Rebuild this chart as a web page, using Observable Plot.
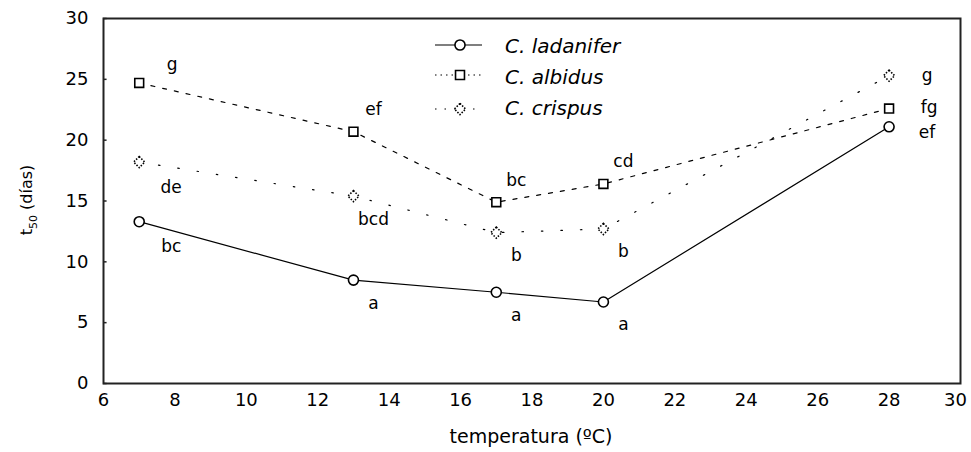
<!DOCTYPE html>
<html>
<head>
<meta charset="utf-8">
<script src="https://cdn.jsdelivr.net/npm/d3@7"></script>
<script src="https://cdn.jsdelivr.net/npm/@observablehq/plot@0.6"></script>
<style>
  html, body { margin: 0; padding: 0; background: #fff; }
  #chart { width: 971px; height: 452px; }
</style>
</head>
<body>
<div id="chart"></div>
<script>
// ---- data ----
const temps = [7, 13, 17, 20, 28];
const ladanifer = [13.3, 8.5, 7.5, 6.7, 21.1];
const albidus = [24.7, 20.7, 14.9, 16.4, 22.6];
const crispus = [18.2, 15.4, 12.4, 12.7, 25.3];
const ladaniferLetters = ["bc", "a", "a", "a", "ef"];
const albidusLetters = ["g", "ef", "bc", "cd", "fg"];
const crispusLetters = ["de", "bcd", "b", "b", "g"];
const ladaniferPlace = ["belowFar", "below", "below", "below", "rightLow"];
const albidusPlace = ["aboveFar", "above", "above", "above", "rightHigh"];
const crispusPlace = ["belowFar", "below", "below", "below", "right"];
const seriesNames = ["C. ladanifer", "C. albidus", "C. crispus"];
const xTicks = [6, 8, 10, 12, 14, 16, 18, 20, 22, 24, 26, 28, 30];
const yTicks = [0, 5, 10, 15, 20, 25, 30];
const xLabel = "temperatura (ºC)";

// ---- build table ----
const rows = [];
[[ladanifer, ladaniferLetters, ladaniferPlace], [albidus, albidusLetters, albidusPlace], [crispus, crispusLetters, crispusPlace]]
  .forEach(([vals, letters, places], si) => {
    temps.forEach((t, i) => rows.push({series: seriesNames[si], t, v: vals[i], letter: letters[i], place: places[i]}));
  });

const FONT = "'DejaVu Sans', Verdana, sans-serif";
const styles = {
  "C. ladanifer": {dash: null, legendDash: null, d3sym: d3.symbolCircle, symbol: "circle", markerDash: null},
  "C. albidus": {dash: "4,8", legendDash: "1.5,4", d3sym: d3.symbolSquare, symbol: "square", markerDash: null},
  "C. crispus": {dash: "1.5,18", legendDash: "1.5,8", d3sym: d3.symbolDiamond2, symbol: "diamond2", markerDash: "1.5,1.5"}
};
const offsets = {below: [20, 23], above: [20, -22], right: [38, 0], rightHigh: [40, -1], rightLow: [38, 6], belowFar: [32, 25], aboveFar: [33, -18]};

const marks = [];
seriesNames.forEach(s => {
  const d = rows.filter(r => r.series === s);
  marks.push(Plot.line(d, {x: "t", y: "v", stroke: "black", strokeWidth: 1.2, strokeDasharray: styles[s].dash}));
});
seriesNames.forEach(s => {
  const d = rows.filter(r => r.series === s);
  marks.push(Plot.dot(d, {x: "t", y: "v", symbol: () => styles[s].symbol, r: 5, stroke: "black", strokeWidth: 1.6, fill: "white", strokeDasharray: styles[s].markerDash}));
});
Object.entries(offsets).forEach(([k, [dx, dy]]) => {
  marks.push(Plot.text(rows.filter(r => r.place === k), {x: "t", y: "v", text: "letter", dx, dy, fontSize: 17, fill: "black"}));
});

const chart = Plot.plot({
  width: 971,
  height: 452,
  marginLeft: 103,
  marginRight: 11,
  marginTop: 18,
  marginBottom: 69,
  style: {fontFamily: FONT, fontSize: "18px", color: "black", background: "white"},
  x: {domain: [6, 30]},
  y: {domain: [0, 30]},
  symbol: {type: "identity"},
  marks: [
    Plot.frame({stroke: "#222", strokeWidth: 2}),
    Plot.ruleY(yTicks, {y: d => d, x1: 6, x2: 6.1, stroke: "#222", strokeWidth: 1.5}),
    Plot.axisX(xTicks.slice(0, -1), {tickSize: 0, tickPadding: 10, fontSize: 18, label: null}),
    Plot.axisX(xTicks.slice(-1), {tickSize: 0, tickPadding: 10, fontSize: 18, label: null, dx: -5}),
    Plot.axisY(yTicks, {tickSize: 0, tickPadding: 15, fontSize: 18, label: null}),
    ...marks
  ]
});
document.getElementById("chart").appendChild(chart);

const svg = d3.select(chart);

// ---- x label ----
svg.append("text")
  .attr("x", 531).attr("y", 443)
  .attr("text-anchor", "middle")
  .style("font-family", FONT).style("font-size", "19px")
  .attr("fill", "black").text(xLabel);

// ---- y label with subscript ----
const yl = svg.append("text")
  .attr("transform", "translate(32,200) rotate(-90)")
  .attr("text-anchor", "middle")
  .style("font-family", FONT).style("font-size", "16px")
  .attr("fill", "black");
yl.append("tspan").text("t");
yl.append("tspan").text("50").style("font-size", "11px").attr("dy", 5);
yl.append("tspan").text(" (días)").attr("dy", -5);

// ---- legend ----
const lg = svg.append("g");
const legendLineY = [45, 75, 109];
const legendTextY = [53, 84, 115];
seriesNames.forEach((s, i) => {
  const y = legendLineY[i];
  lg.append("line").attr("x1", 435).attr("x2", 482).attr("y1", y).attr("y2", y)
    .attr("stroke", "black").attr("stroke-width", 1.2).attr("stroke-dasharray", styles[s].legendDash);
  lg.append("path").attr("transform", `translate(460,${y})`)
    .attr("d", d3.symbol(styles[s].d3sym, 80)())
    .attr("fill", "white").attr("stroke", "black").attr("stroke-width", 1.6)
    .attr("stroke-dasharray", styles[s].markerDash);
  lg.append("text").attr("x", 505).attr("y", legendTextY[i])
    .attr("text-anchor", "start")
    .style("font-family", FONT).style("font-size", "20px").style("font-style", "italic")
    .attr("fill", "black").text(s);
});
</script>
</body>
</html>
